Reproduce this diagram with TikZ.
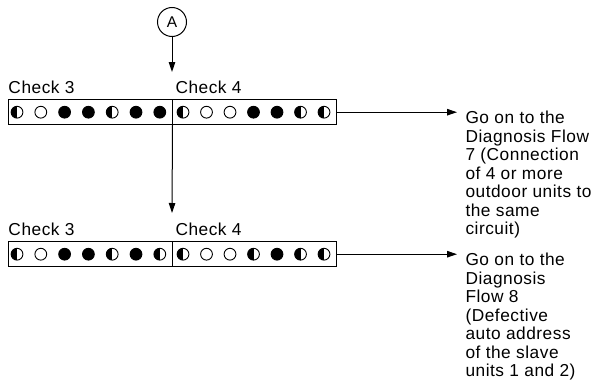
\documentclass[tikz,border=0pt]{standalone}
\usepackage{fontspec}
\setmainfont{Liberation Sans}[LetterSpace=3]
\usetikzlibrary{arrows.meta}
\begin{document}
\begin{tikzpicture}[x=1pt,y=-1pt,
  line width=1pt,
  >={Triangle[length=10pt,width=6.5pt]},
  lbl/.style={font=\fontsize{17.3}{18.5}\selectfont, inner sep=0pt},
  cell/.style={draw, minimum width=164pt, minimum height=24.5pt, inner sep=0pt},
  open/.style={circle, draw, line width=0.9pt, minimum size=11.8pt, inner sep=0pt},
  full/.style={open, fill=black},
  half/.style={open, path picture={\fill[black] (path picture bounding box.north) rectangle (path picture bounding box.south west);}}]
\useasboundingbox (0,0) rectangle (594,380);

% connector A
\node[circle, draw, minimum size=29pt, inner sep=0pt, font=\fontsize{15.5}{17}\selectfont] (A) at (172,22) {A};
\coordinate (a1) at (172,72);
\draw[->] (A) -- (a1);

% row 1
\node[lbl, anchor=base west] (c3a) at (8,93.3) {Check 3};
\node[lbl, anchor=base west] (c4a) at (175,93.3) {Check 4};
\node[cell] (b1l) at (90,112.2) {};
\node[cell] (b1r) at (254,112.2) {};
\foreach \s [count=\i from 0] in {half,open,full,full,half,full,full}
  \node[\s] (d1l\i) at ({17+23.8*\i},112.2) {};
\foreach \s [count=\i from 0] in {half,open,open,full,full,half,half}
  \node[\s] (d1r\i) at ({183+23.5*\i},112.2) {};

% row 2
\node[lbl, anchor=base west] (c3b) at (8,235.3) {Check 3};
\node[lbl, anchor=base west] (c4b) at (175,235.3) {Check 4};
\node[cell] (b2l) at (90,254.2) {};
\node[cell] (b2r) at (254,254.2) {};
\foreach \s [count=\i from 0] in {half,open,full,full,half,full,half}
  \node[\s] (d2l\i) at ({17+23.8*\i},254.2) {};
\foreach \s [count=\i from 0] in {half,open,open,half,full,half,half}
  \node[\s] (d2r\i) at ({183+23.5*\i},254.2) {};

% texts
\node[lbl, anchor=north west, align=left] (t1) at (465,110.5)
  {Go on to the\\Diagnosis Flow\\7 (Connection\\of 4 or more\\outdoor units to\\the same\\circuit)};
\node[lbl, anchor=north west, align=left] (t2) at (465,252.5)
  {Go on to the\\Diagnosis\\Flow 8\\(Defective\\auto address\\of the slave\\units 1 and 2)};

% connectors
\coordinate (a2) at (172,213);
\draw[->] (b1l.south east) -- (a2);
\draw[->, shorten >=8pt] (b1r.east) -- (b1r.east -| t1.west);
\draw[->, shorten >=8pt] (b2r.east) -- (b2r.east -| t2.west);
\end{tikzpicture}
\end{document}
